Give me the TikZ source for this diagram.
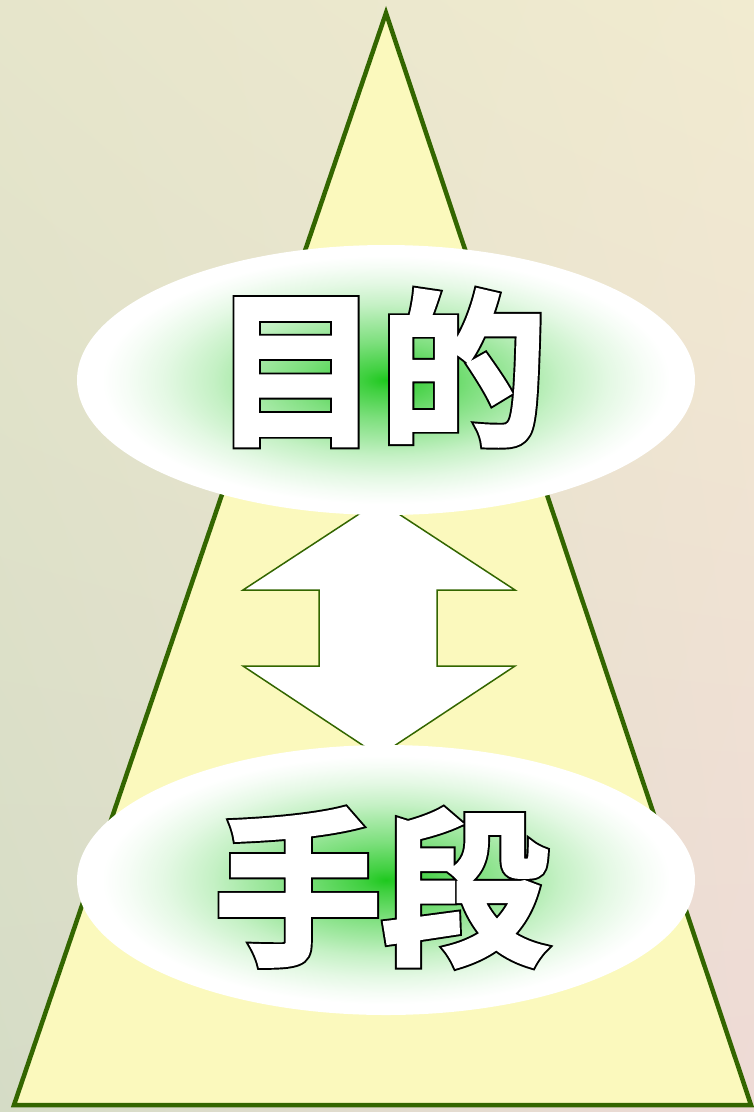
\documentclass[tikz,border=0pt]{standalone}
\usepackage{fontspec}
\newfontfamily\cjk{Noto Sans CJK JP}[UprightFont=* Bold]
\usetikzlibrary{shapes.geometric,shadings}
\definecolor{leafgreen}{HTML}{336600}
\definecolor{paleyellow}{HTML}{FBF9BD}
\definecolor{glowgreen}{HTML}{1EC81E}
\definecolor{bgul}{HTML}{E6E5CB}
\definecolor{bgur}{HTML}{F1EBD0}
\definecolor{bgll}{HTML}{D5DCC6}
\definecolor{bglr}{HTML}{EEDAD6}
\pgfdeclareradialshading{glow}{\pgfpoint{0bp}{0bp}}{color(0bp)=(glowgreen); color(2bp)=(glowgreen!85!white); color(7bp)=(glowgreen!58!white); color(11bp)=(glowgreen!40!white); color(14bp)=(glowgreen!26!white); color(18bp)=(glowgreen!12!white); color(21bp)=(glowgreen!4!white); color(23bp)=(white); color(50bp)=(white)}
% white letters with a black rim
\newcommand{\rimtext}[1]{\rlap{\special{pdf:code 0 0 0 RG 2 Tr 4.6 w}#1\special{pdf:code 0 Tr}}%
  \special{pdf:code 1 1 1 RG 2 Tr 2.4 w}#1\special{pdf:code 0 Tr}}
\begin{document}
\begin{tikzpicture}[x=0.2mm,y=-0.2mm,
  bubble/.style={ellipse, minimum width=123.6mm, minimum height=54mm, inner sep=0pt, text height=0pt, text depth=0pt, shade, shading=glow, text=white, font=\cjk\fontsize{95}{100}\selectfont},
  pyramid/.style={draw=leafgreen, fill=paleyellow, line width=0.9mm, line join=miter},
  twoway/.style={draw=leafgreen, fill=white, line width=0.3mm}
]
% Background
\shade[upper left=bgul, upper right=bgur, lower left=bgll, lower right=bglr] (0,0) rectangle (754,1112);
\useasboundingbox (0,0) rectangle (754,1112);

% Pyramid
\coordinate (apex) at (386,13);
\coordinate (baseL) at (14,1105);
\coordinate (baseR) at (751,1105);
\draw[pyramid] (apex) -- (baseL) -- (baseR) -- cycle;

% Arrow between the two
\draw[twoway] (379,501) -- (515,590) -- (437,590) -- (437,666) -- (515,666) -- (379,756)
  -- (243,666) -- (319,666) -- (319,590) -- (243,590) -- cycle;

% Ends and means
\node[bubble] (goal) at (386,380) {\kern-2.4mm\raisebox{-10.4mm}{\rimtext{目的}}};
\node[bubble] (means) at (386,880) {\kern-1.8mm\raisebox{-14.2mm}{\rimtext{手段}}};
\end{tikzpicture}
\end{document}
